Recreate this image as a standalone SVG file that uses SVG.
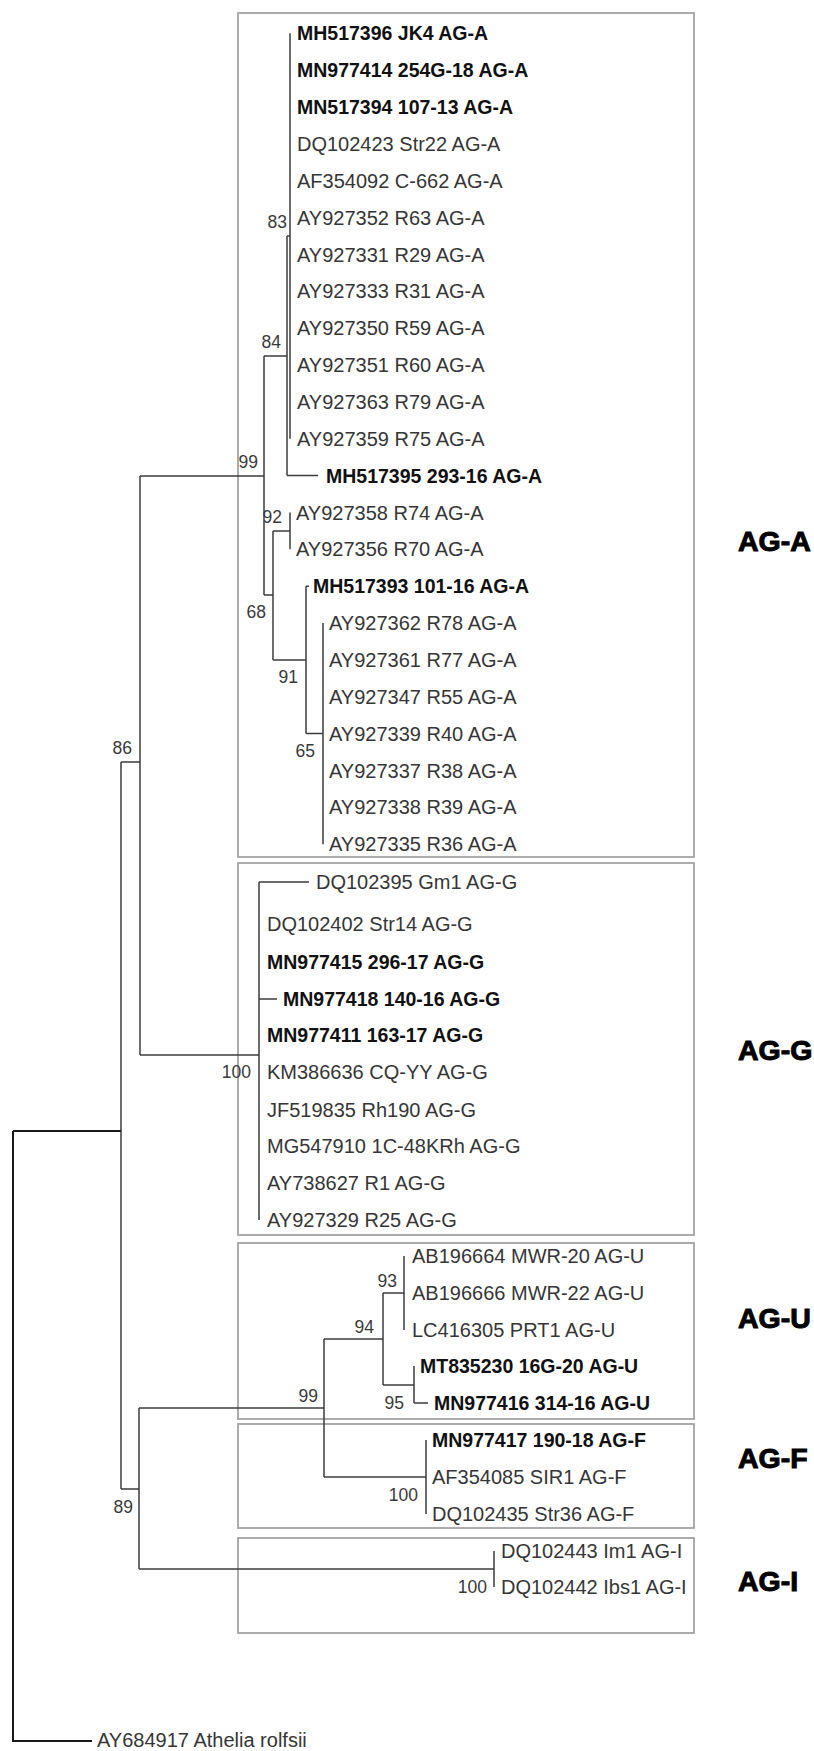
<svg xmlns="http://www.w3.org/2000/svg" width="814" height="1751" viewBox="0 0 814 1751">
<style>
.bg{fill:#fff}
.box{fill:none;stroke:#a3a3a3;stroke-width:1.8}
.br{fill:none;stroke:#3c3c3c;stroke-width:1.5}
.rt{fill:none;stroke:#1a1a1a;stroke-width:2}
.t{font-family:"Liberation Sans",Arial,sans-serif;font-size:20px;fill:#363636}
.b{font-family:"Liberation Sans",Arial,sans-serif;font-size:19.5px;font-weight:bold;fill:#111}
.bs{font-family:"Liberation Sans",Arial,sans-serif;font-size:17.5px;fill:#3a3a3a;text-anchor:end}
.grp{font-family:"Liberation Sans",Arial,sans-serif;font-size:28.5px;font-weight:bold;fill:#000;stroke:#000;stroke-width:1}
</style>
<rect class="bg" x="0" y="0" width="814" height="1751"/>
<g id="boxes">
<rect id="box-AG-A" class="box" x="238" y="13" width="456" height="844"/>
<rect id="box-AG-G" class="box" x="238" y="863" width="456" height="372"/>
<rect id="box-AG-U" class="box" x="238" y="1243" width="456" height="176"/>
<rect id="box-AG-F" class="box" x="238" y="1424" width="456" height="104"/>
<rect id="box-AG-I" class="box" x="238" y="1538" width="456" height="95"/>
</g>
<g id="connectors">
<path class="br" d="M290,33.3 V438.8 M287,236 H290 M287,236 V475.6 M287,475.6 H318 M264,356 H287 M264,356 V595 M264,595 H273 M273,531 V660 M273,531 H290 M290,512.5 V549.3 M273,660 H306 M306,586.2 V733.6 M306,586.2 H309 M306,733.6 H323 M323,623.1 V844.2"/>
<path class="br" d="M140,476 H264 M140,476 V1055 M140,1055 H259 M259,882 V1220 M259,882 H309 M259,999 H277"/>
<path class="br" d="M121,762 H140 M121,762 V1489 M121,1489 H139 M139,1408 V1569 M139,1408 H324 M324,1339 V1477 M324,1339 H383 M383,1293 V1385 M383,1293 H404 M404,1256 V1330 M383,1385 H414 M414,1366 V1403 M414,1403 H428 M324,1477 H426 M426,1440 V1514 M139,1569 H494 M494,1551 V1587"/>
<path class="rt" d="M13,1131 H121 M13,1131 V1741 H92"/>
</g>
<g id="bootstrap">
<text class="bs" x="287" y="228">83</text>
<text class="bs" x="281" y="348">84</text>
<text class="bs" x="258" y="468">99</text>
<text class="bs" x="282" y="523">92</text>
<text class="bs" x="266" y="618">68</text>
<text class="bs" x="298" y="683">91</text>
<text class="bs" x="315" y="757">65</text>
<text class="bs" x="132" y="754">86</text>
<text class="bs" x="251" y="1078">100</text>
<text class="bs" x="397" y="1287">93</text>
<text class="bs" x="374" y="1333">94</text>
<text class="bs" x="404" y="1409">95</text>
<text class="bs" x="318" y="1402">99</text>
<text class="bs" x="418" y="1501">100</text>
<text class="bs" x="133" y="1513">89</text>
<text class="bs" x="487" y="1593">100</text>
</g>
<g id="taxa-AG-A">
<text class="b" x="297" y="40.3">MH517396 JK4 AG-A</text>
<text class="b" x="297" y="77.2">MN977414 254G-18 AG-A</text>
<text class="b" x="297" y="114">MN517394 107-13 AG-A</text>
<text class="t" x="297" y="150.9">DQ102423 Str22 AG-A</text>
<text class="t" x="297" y="187.7">AF354092 C-662 AG-A</text>
<text class="t" x="297" y="224.6">AY927352 R63 AG-A</text>
<text class="t" x="297" y="261.5">AY927331 R29 AG-A</text>
<text class="t" x="297" y="298.3">AY927333 R31 AG-A</text>
<text class="t" x="297" y="335.2">AY927350 R59 AG-A</text>
<text class="t" x="297" y="372">AY927351 R60 AG-A</text>
<text class="t" x="297" y="408.9">AY927363 R79 AG-A</text>
<text class="t" x="297" y="445.8">AY927359 R75 AG-A</text>
<text class="b" x="326" y="482.6">MH517395 293-16 AG-A</text>
<text class="t" x="296" y="519.5">AY927358 R74 AG-A</text>
<text class="t" x="296" y="556.3">AY927356 R70 AG-A</text>
<text class="b" x="313" y="593.2">MH517393 101-16 AG-A</text>
<text class="t" x="329" y="630.1">AY927362 R78 AG-A</text>
<text class="t" x="329" y="666.9">AY927361 R77 AG-A</text>
<text class="t" x="329" y="703.8">AY927347 R55 AG-A</text>
<text class="t" x="329" y="740.6">AY927339 R40 AG-A</text>
<text class="t" x="329" y="777.5">AY927337 R38 AG-A</text>
<text class="t" x="329" y="814.4">AY927338 R39 AG-A</text>
<text class="t" x="329" y="851.2">AY927335 R36 AG-A</text>
</g>
<g id="taxa-AG-G">
<text class="t" x="316" y="889">DQ102395 Gm1 AG-G</text>
<text class="t" x="267" y="931">DQ102402 Str14 AG-G</text>
<text class="b" x="267" y="969">MN977415 296-17 AG-G</text>
<text class="b" x="283" y="1006">MN977418 140-16 AG-G</text>
<text class="b" x="267" y="1042">MN977411 163-17 AG-G</text>
<text class="t" x="267" y="1079">KM386636 CQ-YY AG-G</text>
<text class="t" x="267" y="1117">JF519835 Rh190 AG-G</text>
<text class="t" x="267" y="1153">MG547910 1C-48KRh AG-G</text>
<text class="t" x="267" y="1190">AY738627 R1 AG-G</text>
<text class="t" x="267" y="1227">AY927329 R25 AG-G</text>
</g>
<g id="taxa-AG-U">
<text class="t" x="412" y="1263">AB196664 MWR-20 AG-U</text>
<text class="t" x="412" y="1300">AB196666 MWR-22 AG-U</text>
<text class="t" x="412" y="1337">LC416305 PRT1 AG-U</text>
<text class="b" x="420" y="1373">MT835230 16G-20 AG-U</text>
<text class="b" x="434" y="1410">MN977416 314-16 AG-U</text>
</g>
<g id="taxa-AG-F">
<text class="b" x="432" y="1447">MN977417 190-18 AG-F</text>
<text class="t" x="432" y="1484">AF354085 SIR1 AG-F</text>
<text class="t" x="432" y="1521">DQ102435 Str36 AG-F</text>
</g>
<g id="taxa-AG-I">
<text class="t" x="501" y="1558">DQ102443 Im1 AG-I</text>
<text class="t" x="501" y="1594">DQ102442 Ibs1 AG-I</text>
</g>
<g id="outgroup">
<text class="t" x="97" y="1747">AY684917 Athelia rolfsii</text>
</g>
<g id="group-labels">
<text class="grp" x="738" y="551">AG-A</text>
<text class="grp" x="738" y="1060">AG-G</text>
<text class="grp" x="738" y="1328">AG-U</text>
<text class="grp" x="738" y="1468">AG-F</text>
<text class="grp" x="738" y="1591">AG-I</text>
</g>
</svg>
